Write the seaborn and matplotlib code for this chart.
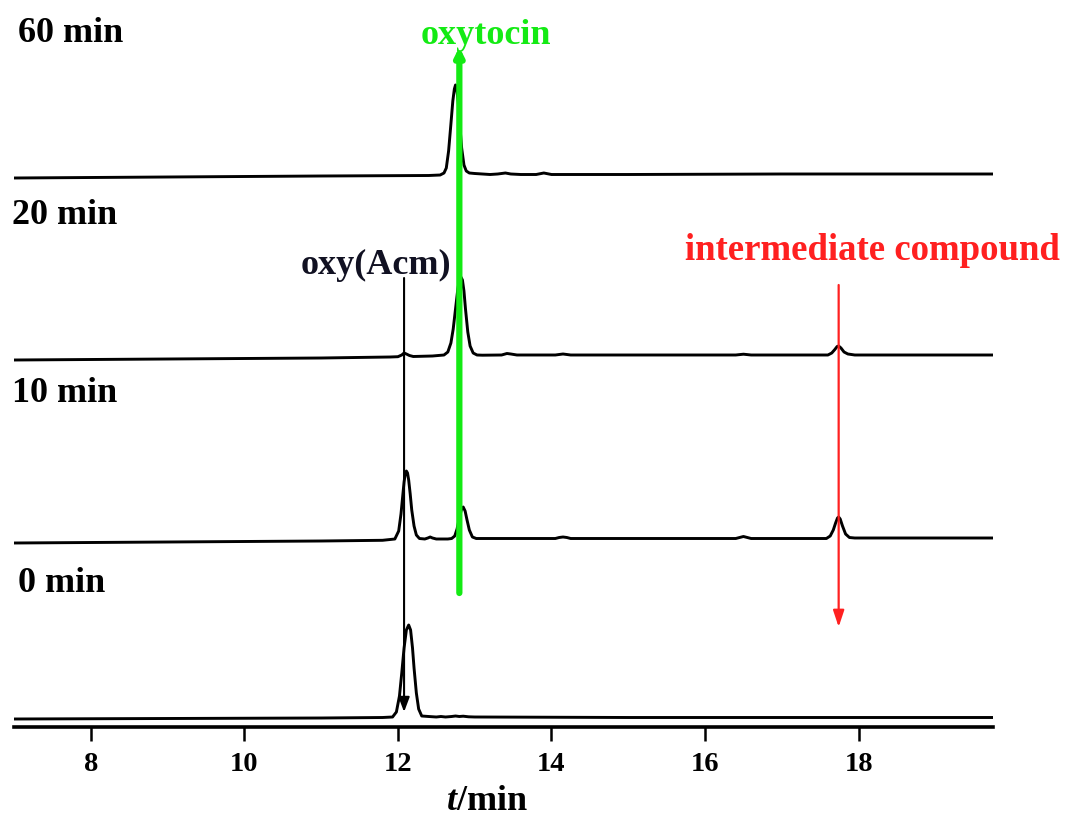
import numpy as np
import pandas as pd
import matplotlib
matplotlib.use("Agg")
import matplotlib.pyplot as plt
import seaborn as sns

# ---- chromatogram traces (retention time in min, detector signal above each trace's baseline) ----
t_0min = [7.0, 9.0, 11.0, 11.8, 11.93, 11.98, 12.02, 12.05, 12.08, 12.11, 12.14, 12.165,
          12.19, 12.21, 12.24, 12.27, 12.31, 12.4, 12.5, 12.56, 12.62, 12.7, 12.75, 12.8,
          12.85, 12.92, 13.0, 15.0, 17.0, 19.75]
s_0min = [-1, -0.5, 0, 0.5, 1, 6, 22, 45, 70, 88, 93, 88,
          70, 50, 25, 9, 2, 1.5, 1, 1.5, 1, 1.5, 2, 1.5,
          1.8, 1.2, 1, 0.5, 0.5, 0.5]

t_10min = [7.0, 9.0, 11.0, 11.8, 11.96, 12.01, 12.04, 12.06, 12.08, 12.095, 12.11, 12.125,
           12.14, 12.16, 12.18, 12.21, 12.24, 12.28, 12.35, 12.39, 12.42, 12.45, 12.5,
           12.65, 12.7, 12.74, 12.77, 12.80, 12.825, 12.85, 12.875, 12.90, 12.93, 12.97,
           13.02, 13.4, 14.05, 14.1, 14.15, 14.2, 14.25, 16.4, 16.45, 16.5, 16.55, 16.6,
           17.58, 17.63, 17.67, 17.70, 17.725, 17.74, 17.76, 17.79, 17.83, 17.88, 17.95,
           19.75]
s_10min = [-3, -2, -1, -0.3, 1, 9, 26, 42, 58, 66, 69, 67,
           60, 46, 30, 14, 5, 1.5, 1, 2, 3, 2, 1,
           1, 1.5, 4, 11, 22, 30, 33, 29, 20, 10, 3,
           1.5, 1.5, 1.5, 2.5, 3, 2.5, 1.5, 1.5, 2.5, 3.5, 2.5, 1.5,
           1.5, 4, 10, 17, 22, 23, 21, 14, 6, 2.5, 2,
           2]

t_20min = [7.0, 9.0, 11.0, 11.9, 12.0, 12.05, 12.08, 12.11, 12.15, 12.2, 12.45, 12.6,
           12.65, 12.69, 12.72, 12.75, 12.78, 12.80, 12.82, 12.84, 12.86, 12.88, 12.91,
           12.94, 12.98, 13.03, 13.1, 13.35, 13.42, 13.47, 13.55, 14.05, 14.15, 14.25,
           16.4, 16.5, 16.6, 17.6, 17.65, 17.69, 17.72, 17.74, 17.77, 17.81, 17.86, 17.95,
           19.75]
s_20min = [-3, -2, -1, 0, 0.3, 2, 4, 3, 1.5, 0.5, 1, 2,
           5, 14, 28, 48, 68, 77, 80, 77, 66, 48, 25,
           11, 4, 2, 1.8, 2, 3.5, 3, 2, 2, 3, 2,
           2, 2.8, 2, 2, 4, 7.5, 10.5, 11, 9, 5, 3, 2,
           2]

t_60min = [7.0, 9.0, 11.0, 12.4, 12.55, 12.6, 12.63, 12.66, 12.69, 12.715, 12.735, 12.75,
           12.765, 12.785, 12.805, 12.83, 12.86, 12.89, 12.93, 13.0, 13.1, 13.2, 13.3,
           13.4, 13.47, 13.6, 13.8, 13.9, 14.0, 15.0, 17.0, 19.75]
s_60min = [-2, -1, 0, 0.5, 1, 3, 8, 25, 52, 75, 87, 91,
           88, 74, 52, 28, 11, 5, 3, 2.5, 2, 1.5, 2,
           3, 2, 1.5, 1.5, 3, 1.5, 1.5, 2, 2]

run_labels = ["0 min", "10 min", "20 min", "60 min"]
run_offsets = [9, 187, 370, 551]          # vertical stacking of the traces

# peak assignments (retention time, min)
rt_oxy_acm = 12.08
rt_oxytocin = 12.80
rt_intermediate = 17.74

xticks = [8, 10, 12, 14, 16, 18]

# ---- build long-form table ----
frames = []
for lab, t, s, off in zip(run_labels,
                          [t_0min, t_10min, t_20min, t_60min],
                          [s_0min, s_10min, s_20min, s_60min],
                          run_offsets):
    frames.append(pd.DataFrame({"t": t, "signal": np.asarray(s, float) + off, "run": lab}))
df = pd.concat(frames, ignore_index=True)

sns.set_theme(style="white")
plt.rcParams["font.family"] = ["Liberation Serif", "DejaVu Serif"]
plt.rcParams["font.weight"] = "bold"
plt.rcParams["text.color"] = "black"
plt.rcParams["xtick.color"] = "black"
plt.rcParams["xtick.labelcolor"] = "black"
plt.rcParams["mathtext.fontset"] = "custom"
plt.rcParams["mathtext.it"] = "Liberation Serif:italic:bold"
plt.rcParams["mathtext.rm"] = "Liberation Serif:bold"
plt.rcParams["mathtext.bf"] = "Liberation Serif:bold"

fig = plt.figure(figsize=(10.71, 8.16), dpi=100)
ax = fig.add_axes([14 / 1071, 89 / 816, 979 / 1071, 727 / 816])

sns.lineplot(data=df, x="t", y="signal", units="run", estimator=None, sort=False,
             color="black", linewidth=2.1, ax=ax, legend=False)

ax.set_xlim(7.0, 19.75)
ax.set_ylim(0, 727)

for sp in ["left", "right", "top"]:
    ax.spines[sp].set_visible(False)
ax.spines["bottom"].set_linewidth(2.6)
ax.spines["bottom"].set_color("black")

ax.set_yticks([])
ax.set_xticks(xticks)
ax.set_xticklabels([str(v) for v in xticks], fontsize=20.5, fontweight="bold", color="black")
ax.tick_params(axis="x", direction="out", length=10, width=1.8, color="black",
               labelcolor="black", pad=8, bottom=True)
ax.set_xlabel("")
ax.set_ylabel("")
ax.text(13.16, -74, r"$\mathit{t}$/min", ha="center", va="center",
        fontsize=26, fontweight="bold", color="black", clip_on=False)

# run labels
label_pos = {"60 min": (7.05, 697), "20 min": (6.97, 515), "10 min": (6.97, 337), "0 min": (7.05, 147)}
for lab in run_labels:
    x, y = label_pos[lab]
    ax.text(x, y - 3, lab, fontsize=26, fontweight="bold", ha="left", va="center", color="black")

# peak annotations
green = "#14ea14"
ax.text(13.14, 691, "oxytocin", fontsize=26, fontweight="bold",
        color=green, ha="center", va="center")
ax.annotate("", xy=(rt_oxytocin, 680), xytext=(rt_oxytocin, 134),
            arrowprops=dict(arrowstyle="-|>,head_length=0.6,head_width=0.3",
                            color=green, lw=4.5, shrinkA=0, shrinkB=0,
                            mutation_scale=8, capstyle="round"))

ax.text(rt_oxy_acm - 0.37, 462, "oxy(Acm)", fontsize=26, fontweight="bold",
        color="#111122", ha="center", va="center")
ax.annotate("", xy=(rt_oxy_acm, 15), xytext=(rt_oxy_acm, 449),
            arrowprops=dict(arrowstyle="-|>,head_length=0.8,head_width=0.3",
                            color="black", lw=1.5, shrinkA=0, shrinkB=0,
                            mutation_scale=11))

ax.text(rt_intermediate + 0.44, 477, "intermediate compound", fontsize=26.5, fontweight="bold",
        color="#ff2020", ha="center", va="center")
ax.annotate("", xy=(rt_intermediate, 100), xytext=(rt_intermediate, 442),
            arrowprops=dict(arrowstyle="-|>,head_length=0.9,head_width=0.3",
                            color="#ff2020", lw=1.6, shrinkA=0, shrinkB=0,
                            mutation_scale=11))

fig.savefig("out.png", dpi=100, facecolor="white")
